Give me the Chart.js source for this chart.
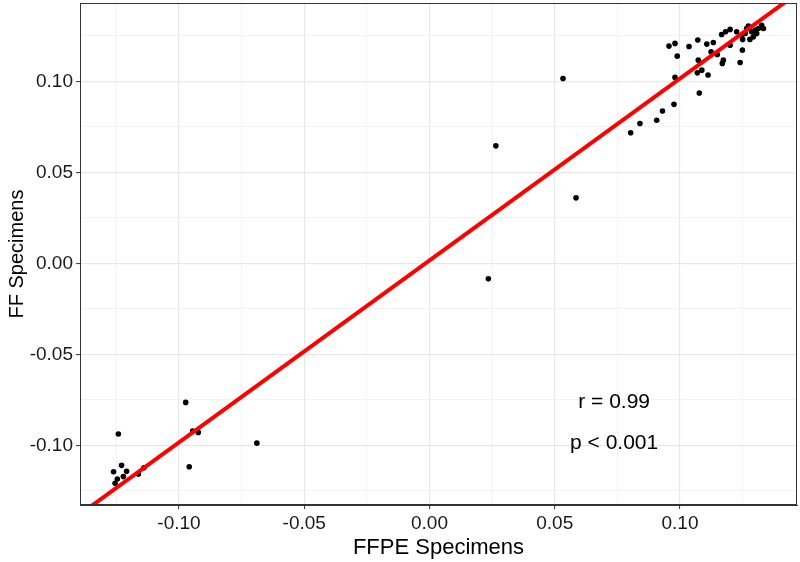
<!DOCTYPE html>
<html>
<head>
<meta charset="utf-8">
<script src="https://cdn.jsdelivr.net/npm/chart.js@4.4.1/dist/chart.umd.min.js"></script>
<style>
  body { margin: 0; background: #fff; }
  canvas { display: block; }
</style>
</head>
<body>
<canvas id="scatter" width="800" height="562"></canvas>
<script>
// FFPE (x) vs FF (y) values
var ffpeValues = [
  0.0533, 0.0265, 0.0585, 0.0235,
  -0.1242, -0.0973, -0.0959, -0.0945, -0.0923, -0.1261, -0.1229, -0.1209,
  -0.1222, -0.1246, -0.1255, -0.1162, -0.1140, -0.0689,
  0.0803, 0.0840, 0.0907, 0.0930, 0.0976, 0.0980, 0.1077, 0.1069, 0.1087,
  0.1112, 0.1073, 0.0989, 0.0956, 0.0980, 0.1036, 0.1071, 0.1107, 0.1133,
  0.1124, 0.1149, 0.1173, 0.1169, 0.1200, 0.1240, 0.1249, 0.1166, 0.1182,
  0.1200, 0.1226, 0.1246, 0.1250, 0.1266, 0.1273, 0.1286, 0.1293, 0.1279,
  0.1306, 0.1313, 0.1326, 0.1333, 0.1260, 0.1300
];
var ffValues = [
  0.1016, 0.0646, 0.0360, -0.0085,
  -0.0938, -0.0764, -0.1118, -0.0921, -0.0929, -0.1145, -0.1110, -0.1143,
  -0.1172, -0.1185, -0.1209, -0.1158, -0.1123, -0.0988,
  0.0718, 0.0769, 0.0787, 0.0837, 0.0874, 0.1022, 0.0936, 0.1047, 0.1062,
  0.1035, 0.1117, 0.1139, 0.1194, 0.1209, 0.1192, 0.1227, 0.1205, 0.1214,
  0.1163, 0.1148, 0.1117, 0.1099, 0.1199, 0.1104, 0.1172, 0.1258, 0.1273,
  0.1286, 0.1273, 0.1254, 0.1231, 0.1291, 0.1304, 0.1273, 0.1245, 0.1231,
  0.1264, 0.1291, 0.1309, 0.1291, 0.1264, 0.1282
];

// fitted line y = slope * x + intercept
var fitSlope = 1.0;
var fitIntercept = 0.0016;
var fitRange = [-0.2, 0.2];

var xTicks = [-0.125, -0.1, -0.075, -0.05, -0.025, 0, 0.025, 0.05, 0.075, 0.1, 0.125];
var yTicks = [-0.125, -0.1, -0.075, -0.05, -0.025, 0, 0.025, 0.05, 0.075, 0.1, 0.125];
var xLimits = [-0.1395, 0.1467];
var yLimits = [-0.1328, 0.1431];

var statLabels = ['r = 0.99', 'p < 0.001'];
var statX = 0.0737;
var statY = [-0.0762, -0.0987];

var points = [];
for (var i = 0; i < ffpeValues.length; i++) {
  points.push({x: ffpeValues[i], y: ffValues[i]});
}
var fitLine = fitRange.map(function (x) { return {x: x, y: fitSlope * x + fitIntercept}; });

function isMajor(v) {
  return Math.abs(Math.round(v / 0.05) * 0.05 - v) < 1e-9;
}
function tickLabel(v) {
  if (!isMajor(v)) return '';
  var s = (Math.round(v * 100) / 100).toFixed(2);
  return s === '-0.00' ? '0.00' : s;
}

var panelPlugin = {
  id: 'panel',
  afterDatasetsDraw: function (chart) {
    var ctx = chart.ctx, a = chart.chartArea;
    var xs = chart.scales.x, ys = chart.scales.y;
    ctx.save();
    ctx.fillStyle = '#000';
    ctx.font = '21px "Liberation Sans", Arial, sans-serif';
    ctx.textAlign = 'center';
    ctx.textBaseline = 'middle';
    for (var i = 0; i < statLabels.length; i++) {
      ctx.fillText(statLabels[i], xs.getPixelForValue(statX), ys.getPixelForValue(statY[i]));
    }
    ctx.strokeStyle = '#333333';
    ctx.lineWidth = 1;
    ctx.strokeRect(a.left + 0.5, a.top + 0.5, a.right - a.left - 1, a.bottom - a.top - 1);
    ctx.restore();
  }
};

var gridOpts = {
  color: function (c) { return c.tick && isMajor(c.tick.value) ? '#e8e8e8' : '#f0f0f0'; },
  lineWidth: function (c) { return c.tick && isMajor(c.tick.value) ? 1.2 : 0.8; },
  tickColor: function (c) { return c.tick && isMajor(c.tick.value) ? '#333333' : 'rgba(0,0,0,0)'; },
  tickWidth: 1,
  tickLength: 4
};

var ctx = document.getElementById('scatter');
var myChart = new Chart(ctx, {
  type: 'scatter',
  data: {
    datasets: [{
      label: 'samples',
      data: points,
      backgroundColor: '#000000',
      borderColor: '#000000',
      pointRadius: 2.8,
      pointHoverRadius: 2.8,
      borderWidth: 0
    }, {
      type: 'line',
      label: 'fit',
      data: fitLine,
      borderColor: '#ff0000',
      borderWidth: 4,
      pointRadius: 0,
      fill: false,
      clip: 0,
      order: -1
    }]
  },
  options: {
    responsive: false,
    animation: false,
    events: [],
    layout: { padding: { top: 3, right: 3, left: 0, bottom: 0 } },
    plugins: { legend: { display: false }, tooltip: { enabled: false } },
    scales: {
      x: {
        type: 'linear',
        min: xLimits[0],
        max: xLimits[1],
        afterBuildTicks: function (s) { s.ticks = xTicks.map(function (v) { return {value: v}; }); },
        afterFit: function (s) { s.height = 57; s.paddingLeft = 0; s.paddingRight = 0; },
        grid: gridOpts,
        border: { color: '#333333', width: 1 },
        ticks: {
          autoSkip: false, maxRotation: 0, padding: 3,
          color: '#1a1a1a',
          font: { family: '"Liberation Sans", Arial, sans-serif', size: 19 },
          callback: function (v) { return tickLabel(v); }
        },
        title: {
          display: true, text: 'FFPE Specimens', color: '#000',
          font: { family: '"Liberation Sans", Arial, sans-serif', size: 22 },
          padding: { top: 0, bottom: 1 }
        }
      },
      y: {
        type: 'linear',
        min: yLimits[0],
        max: yLimits[1],
        afterBuildTicks: function (s) { s.ticks = yTicks.map(function (v) { return {value: v}; }); },
        afterFit: function (s) { s.width = 80; s.paddingTop = 0; s.paddingBottom = 0; },
        grid: gridOpts,
        border: { color: '#333333', width: 1 },
        ticks: {
          autoSkip: false, padding: 3,
          color: '#1a1a1a',
          font: { family: '"Liberation Sans", Arial, sans-serif', size: 19 },
          callback: function (v) { return tickLabel(v); }
        },
        title: {
          display: true, text: 'FF Specimens', color: '#000',
          font: { family: '"Liberation Sans", Arial, sans-serif', size: 20 },
          padding: { top: 5, bottom: 0 }
        }
      }
    }
  },
  plugins: [panelPlugin]
});
</script>
</body>
</html>
